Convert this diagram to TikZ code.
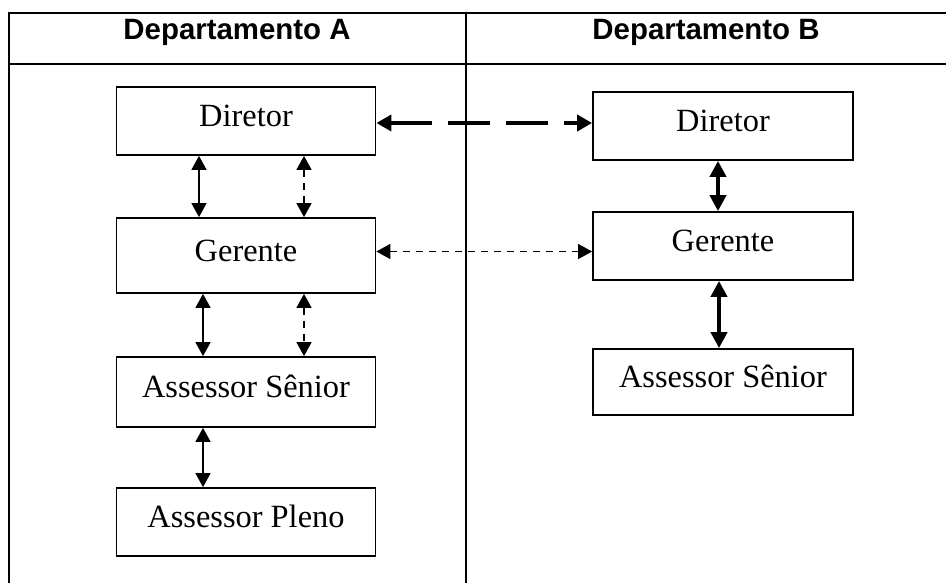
\documentclass[tikz,border=0pt]{standalone}
\usepackage{fontspec}
\setmainfont{Liberation Serif}
\newfontfamily\cabfont{Liberation Sans}
\usetikzlibrary{arrows.meta}

\begin{document}
\begin{tikzpicture}[x=0.5pt,y=-0.5pt,>={Triangle[length=7pt,width=7.5pt]},
  cargo/.style={draw,line width=0.9pt,minimum width=129.5pt,minimum height=34pt,inner sep=0pt,
    font=\fontsize{16.2}{19}\selectfont,text height=1.5ex,text depth=0.3ex},
  titulo/.style={font=\cabfont\bfseries\fontsize{14.7}{17}\selectfont,anchor=base},
  elo/.style={<->,line width=0.75pt},
  elotrac/.style={<->,line width=0.8pt,dash pattern=on 3.5pt off 3pt},
  elogrosso/.style={<->,line width=2pt,>={Triangle[length=8pt,width=8pt]}},
  elolongo/.style={<->,line width=2pt,dash pattern=on 21pt off 8pt,>={Triangle[length=7.5pt,width=8pt]}}]
\useasboundingbox (0,0) rectangle (946,583);
% tabela
\draw[line width=1pt] (9,583) -- (9,13) -- (946,13);
\draw[line width=1pt] (9,64) -- (946,64);
\draw[line width=1pt] (466,13) -- (466,583);
\node[titulo] (depA) at (237,40) {Departamento A};
\node[titulo] (depB) at (706,40) {Departamento B};
% departamento A
\node[cargo] (dirA) at (246,121) {Diretor};
\node[cargo,minimum height=37.5pt] (gerA) at (246,255.5) {Gerente};
\node[cargo,minimum height=35pt] (assA) at (246,392) {Assessor Sênior};
\node[cargo] (pleA) at (246,522) {Assessor Pleno};
% departamento B
\node[cargo,minimum width=130pt] (dirB) at (723,126) {Diretor};
\node[cargo,minimum width=130pt] (gerB) at (723,246) {Gerente};
\node[cargo,minimum width=130pt,minimum height=33pt] (assB) at (723,382) {Assessor Sênior};
% ligacoes
\draw[elo] ([xshift=-23.5pt]dirA.south) -- ([xshift=-23.5pt]gerA.north);
\draw[elotrac] ([xshift=29pt]dirA.south) -- ([xshift=29pt]gerA.north);
\draw[elo] ([xshift=-21.5pt]gerA.south) -- ([xshift=-21.5pt]assA.north);
\draw[elotrac] ([xshift=29pt]gerA.south) -- ([xshift=29pt]assA.north);
\draw[elo] ([xshift=-21.5pt]assA.south) -- ([xshift=-21.5pt]pleA.north);
\draw[elogrosso] ([xshift=-2.5pt]dirB.south) -- ([xshift=-2.5pt]gerB.north);
\draw[elogrosso] ([xshift=-2pt]gerB.south) -- ([xshift=-2pt]assB.north);
\draw[elolongo] ([yshift=-1pt]dirA.east) -- ([yshift=-1pt]dirA.east -| dirB.west);
\draw[elotrac] ([yshift=2pt]gerA.east) -- ([yshift=2pt]gerA.east -| gerB.west);
\end{tikzpicture}
\end{document}
